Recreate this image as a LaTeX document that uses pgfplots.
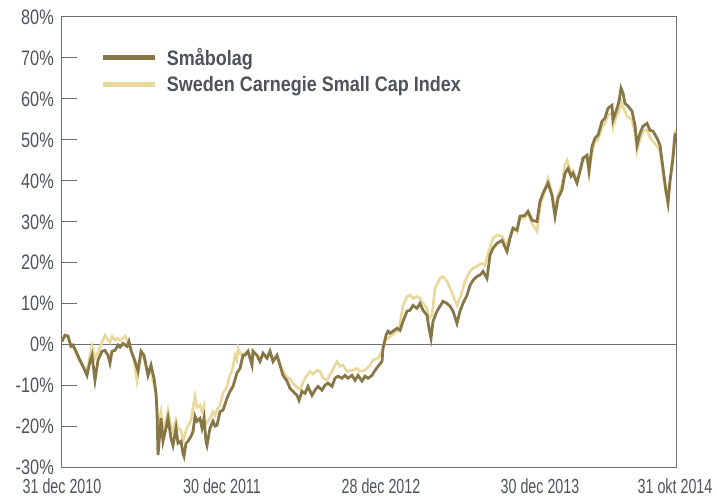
\documentclass[border=0pt]{standalone}
\usepackage{fontspec}
\setmainfont{Liberation Sans}[FakeStretch=0.78]
\newfontfamily\legfont{Liberation Sans}[FakeStretch=0.86]
\newfontfamily\xfont{Liberation Sans}[FakeStretch=0.7]
\usepackage{pgfplots}
\pgfplotsset{compat=1.18}
\definecolor{darkol}{RGB}{135,118,70}
\definecolor{paleol}{RGB}{232,217,155}
\definecolor{txtgray}{RGB}{78,84,90}
\definecolor{framegray}{RGB}{110,110,110}
\begin{document}
\begin{tikzpicture}
\begin{axis}[
  scale only axis, width=614bp, height=450bp,
  xmin=62, xmax=676, ymin=-30, ymax=80,
  xtick={62,222,381,540,675},
  xticklabels={31 dec 2010,30 dec 2011,28 dec 2012,30 dec 2013,31 okt 2014},
  ytick={-30,-20,...,80},
  yticklabel={\pgfmathprintnumber{\tick}\%},
  /pgf/number format/assume math mode=true,
  tick label style={font=\fontsize{21}{24}\selectfont, text=txtgray},
  xticklabel style={font=\xfont\fontsize{20.5}{24}\selectfont, text depth=0pt, inner sep=1bp, yshift=-11bp},
  yticklabel style={text depth=0pt, text height=15bp, inner sep=1bp, xshift=-7bp},
  x tick style={draw=none},
  y tick style={draw=framegray, line width=1bp},
  ytick pos=left, tick align=inside, major tick length=15bp,
  axis line style={draw=framegray, line width=1bp},
  legend style={draw=none, fill=none, at={(0.063,0.935)}, anchor=north west,
    font=\legfont\bfseries\fontsize{21}{24}\selectfont, text=txtgray,
    row sep=5bp, inner sep=0pt,
    /tikz/every odd column/.append style={column sep=7bp}},
  legend cell align=left,
  legend image code/.code={\draw[#1, line width=5bp] (0bp,0bp) -- (52bp,0bp);},
]
\addplot[framegray, line width=0.8bp, forget plot] coordinates {(62,0) (676,0)};
\addplot[paleol, line width=2.6bp, forget plot] coordinates {
(62,0.7)(65,2.2)(68,2.0)(71,-0.5)(73,-0.5)(76,-2.2)(79,-3.9)(83,-5.4)(87,-6.6)(90,-2.7)
(92,-0.5)(95,-3.4)(98,-2.0)(102,0.5)(105,2.2)(108,1.0)(110,0.5)(112,2.0)(115,1.0)(118,1.5)
(120,1.0)(123,1.5)(125,2.0)(128,0.5)(131,-1.5)(134,-4.2)(137,-9.0)(141,-2.2)(144,-3.4)(148,-7.6)
(151,-6.0)(153,-9.0)(156,-12.0)(157,-16.0)(158,-20.0)(161,-16.5)(163,-21.0)(166,-18.5)(168,-16.1)(171,-20.0)
(173,-21.5)(176,-18.5)(178,-20.5)(181,-21.0)(183,-23.7)(184,-23.0)(186,-21.0)(188,-20.0)(191,-18.5)(193,-15.6)
(195,-12.7)(197,-15.5)(200,-14.9)(202,-16.5)(204,-15.0)(205,-19.8)(207,-19.0)(210,-18.1)(213,-16.5)(215,-17.4)
(217,-16.0)(220,-14.9)(223,-12.0)(227,-10.3)(230,-7.5)(232,-6.6)(235,-2.7)(237,-3.9)(238,-1.0)(240,-2.2)
(243,-2.7)(245,-2.2)(248,-1.7)(252,-4.5)(253,-1.7)(257,-2.7)(260,-4.0)(263,-2.2)(267,-3.4)(270,-1.7)
(273,-4.2)(277,-2.7)(280,-5.1)(283,-6.6)(287,-8.0)(290,-8.5)(293,-9.5)(297,-10.5)(300,-11.2)(302,-10.0)
(305,-8.3)(310,-6.6)(313,-7.3)(317,-6.4)(320,-6.6)(323,-8.3)(327,-8.8)(332,-6.6)(335,-5.1)(337,-4.2)
(340,-5.4)(343,-5.1)(347,-6.6)(352,-6.4)(357,-5.9)(360,-6.6)(365,-6.4)(370,-5.1)(373,-3.9)(378,-3.4)
(382,-1.7)(385,0.7)(388,1.5)(392,2.2)(397,3.2)(400,5.0)(403,9.5)(407,11.7)(410,12.0)(413,11.2)
(417,11.7)(420,11.2)(423,10.0)(427,8.8)(429,6.4)(432,7.1)(435,13.7)(440,16.1)(443,16.6)(447,15.4)
(450,13.7)(453,12.0)(457,9.5)(461,12.0)(465,15.4)(470,17.8)(473,18.6)(477,19.1)(482,19.8)(485,19.3)
(488,22.2)(493,25.9)(497,26.7)(502,26.4)(507,24.2)(510,26.7)(513,28.4)(517,27.5)(520,30.5)(525,31.0)
(528,32.0)(532,29.5)(537,27.6)(540,33.5)(543,36.0)(548,40.5)(552,37.0)(555,33.0)(558,36.5)(562,39.0)
(565,44.0)(567,45.0)(571,42.0)(573,42.5)(577,40.0)(580,42.3)(583,45.0)(587,45.5)(589,41.5)(592,47.0)
(595,49.5)(598,50.0)(602,53.0)(605,54.0)(608,56.0)(612,56.5)(613,53.0)(617,56.0)(619,57.0)(621,59.5)
(623,58.0)(627,55.7)(632,55.0)(635,51.5)(637,47.2)(640,50.0)(643,52.0)(647,52.5)(650,50.5)(653,49.6)
(657,48.5)(660,47.0)(663,42.0)(666,37.0)(668,35.0)(670,40.0)(673,47.0)(675,52.3)
};
\addplot[darkol, line width=2.8bp] coordinates {
(62,0.7)(65,2.2)(68,2.0)(71,-0.5)(73,-0.2)(76,-1.7)(79,-3.4)(83,-5.4)(87,-7.6)(90,-4.2)
(92,-2.7)(95,-8.8)(98,-3.9)(102,-1.7)(105,-1.5)(108,-2.7)(110,-4.6)(112,-1.7)(115,-1.5)(118,-0.2)
(120,-0.7)(123,0.2)(127,-0.5)(129,0.7)(131,-1.5)(134,-3.4)(138,-6.6)(141,-1.7)(144,-2.7)(148,-7.6)
(151,-5.1)(154,-8.3)(156,-12.0)(157,-16.4)(158,-27.1)(161,-18.1)(163,-23.7)(166,-20.5)(168,-18.1)(171,-23.0)
(173,-24.7)(176,-20.5)(178,-24.2)(181,-23.7)(183,-26.7)(184,-27.4)(186,-24.2)(188,-23.7)(191,-22.5)(193,-21.3)
(195,-17.6)(197,-18.8)(200,-18.1)(202,-20.5)(204,-18.1)(206,-23.7)(207,-24.7)(210,-20.5)(213,-18.8)(215,-20.0)
(217,-19.8)(220,-16.5)(223,-16.1)(227,-13.2)(230,-11.5)(233,-10.3)(237,-7.0)(240,-5.9)(243,-2.7)(245,-2.7)
(248,-1.7)(252,-5.1)(253,-1.7)(257,-2.7)(260,-4.2)(263,-2.2)(267,-3.4)(270,-1.7)(273,-4.2)(277,-2.7)
(280,-5.1)(283,-7.6)(287,-9.0)(290,-10.8)(293,-11.5)(297,-12.5)(299,-13.7)(302,-11.5)(305,-12.0)(308,-10.3)
(312,-12.5)(315,-11.2)(318,-10.3)(322,-11.2)(325,-10.0)(328,-9.5)(332,-10.3)(335,-8.3)(338,-7.8)(342,-8.3)
(345,-7.6)(348,-8.3)(352,-7.6)(355,-8.8)(358,-7.6)(362,-9.0)(365,-7.8)(368,-8.3)(372,-7.6)(375,-6.4)
(378,-5.4)(382,-4.2)(383,-1.0)(386,2.2)(388,3.2)(390,2.7)(393,3.2)(397,3.9)(400,3.4)(403,5.6)
(407,8.1)(410,8.3)(413,9.5)(417,8.8)(420,10.0)(423,8.3)(427,7.1)(429,3.9)(431,1.5)(433,5.6)
(437,8.1)(440,9.3)(443,10.5)(447,10.0)(450,9.3)(453,8.1)(457,5.1)(460,8.1)(463,10.0)(467,12.0)
(470,14.4)(473,15.6)(477,16.6)(480,16.9)(483,17.8)(487,16.1)(490,21.8)(493,23.5)(497,24.7)(502,25.4)
(507,22.7)(510,25.9)(513,28.4)(517,27.9)(520,31.3)(525,31.5)(528,32.5)(532,30.3)(537,30.0)(540,35.0)
(543,36.9)(548,39.4)(552,36.4)(555,31.3)(558,35.7)(562,37.7)(565,41.8)(568,43.0)(571,41.1)(573,41.8)
(577,39.4)(580,42.3)(583,45.5)(587,46.2)(589,42.5)(592,48.4)(595,50.4)(598,51.1)(602,54.5)(605,55.3)
(608,57.7)(612,58.4)(613,54.8)(617,57.7)(619,59.4)(621,62.6)(623,61.4)(625,58.9)(628,58.2)(632,57.0)
(635,53.5)(637,48.7)(640,51.6)(643,53.3)(647,54.0)(650,52.3)(653,52.1)(657,50.4)(660,48.7)(663,43.0)
(666,37.4)(668,34.5)(670,39.9)(673,45.5)(675,51.1)(676,51.6)
};
\addlegendentry{Småbolag}
\addlegendimage{paleol}
\addlegendentry{Sweden Carnegie Small Cap Index}
\end{axis}
\pgfresetboundingbox
\path ([shift={(-62bp,-30bp)}]current axis.south west) rectangle ([shift={(41bp,17bp)}]current axis.north east);
\end{tikzpicture}
\end{document}
